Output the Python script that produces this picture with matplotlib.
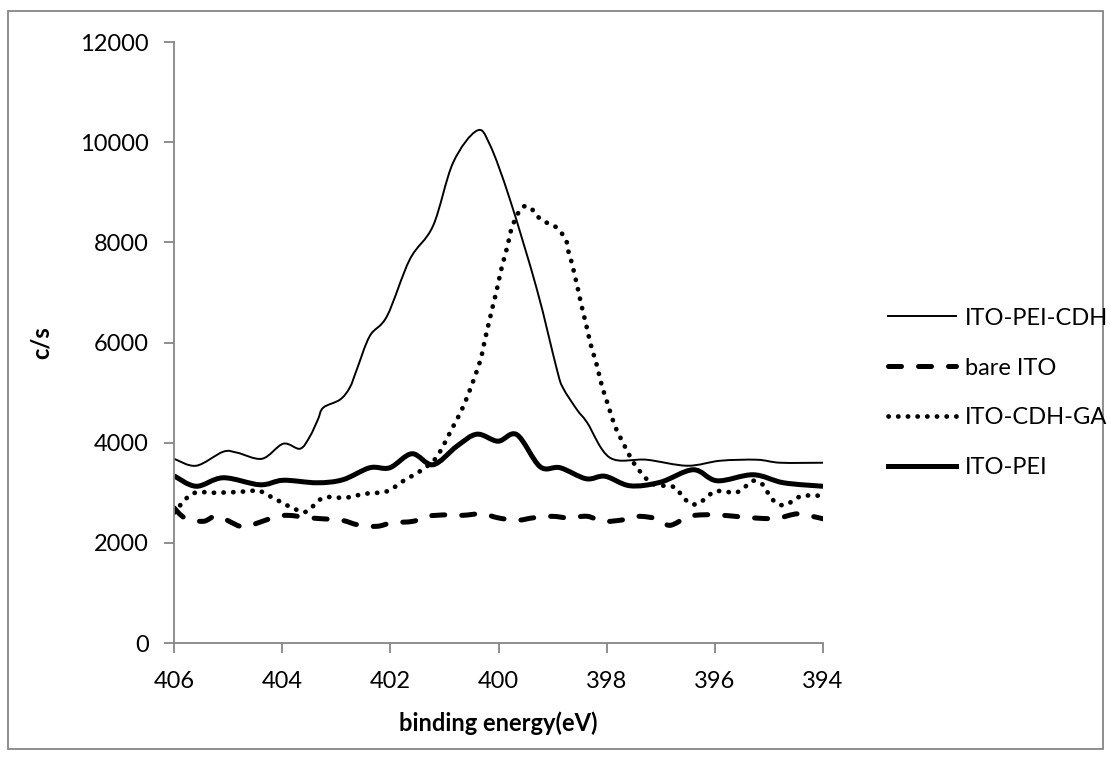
import matplotlib.pyplot as plt
from matplotlib.patches import Rectangle, PathPatch
from matplotlib.path import Path
from matplotlib.lines import Line2D

plt.rcParams['font.family'] = ['Lato', 'DejaVu Sans']

# ITO-PEI-CDH (thin solid)
pei_cdh_x = [406.0, 405.59, 405.09, 404.83, 404.37, 403.98, 403.67, 403.49, 403.34,
             403.24, 402.93, 402.75, 402.62, 402.38, 402.06, 401.64, 401.21, 400.84,
             400.40, 400.16, 399.79, 399.29, 398.92, 398.81, 398.55, 398.36, 397.94,
             397.26, 396.51, 395.90, 395.22, 394.79, 394.0]
pei_cdh_y = [3680, 3540, 3820, 3800, 3680, 3980, 3880, 4120, 4460,
             4700, 4860, 5100, 5460, 6130, 6530, 7660, 8330, 9590,
             10230, 9950, 8860, 7060, 5460, 5100, 4660, 4400, 3700,
             3660, 3540, 3640, 3660, 3600, 3600]

# bare ITO (dashed)
bare_x = [406.0, 405.80, 405.46, 405.20, 404.78, 404.59, 404.17, 403.91, 403.49,
          403.24, 402.89, 402.60, 402.25, 401.97, 401.58, 401.32, 400.95, 400.66,
          400.30, 400.01, 399.66, 399.36, 399.01, 398.71, 398.36, 398.07, 397.70,
          397.42, 397.07, 396.83, 396.50, 396.22, 395.85, 395.53, 395.16, 394.85,
          394.48, 394.20, 394.0]
bare_y = [2700, 2500, 2430, 2530, 2330, 2350, 2500, 2550, 2500,
          2480, 2450, 2360, 2330, 2400, 2430, 2530, 2560, 2550,
          2580, 2500, 2450, 2500, 2530, 2500, 2530, 2430, 2460,
          2530, 2480, 2350, 2520, 2560, 2550, 2520, 2490, 2490,
          2580, 2530, 2480]

# ITO-CDH-GA (dotted)
cdh_ga_x = [406.0, 405.76, 405.57, 405.20, 404.63, 404.45, 404.26, 404.10, 403.91,
            403.73, 403.54, 403.24, 402.84, 402.47, 402.06, 401.77, 401.41, 401.14,
            400.86, 400.67, 400.53, 400.34, 400.25, 400.12, 400.03, 399.94, 399.84,
            399.75, 399.58, 399.42, 399.29, 399.14, 398.97, 398.83, 398.73, 398.70,
            398.64, 398.60, 398.55, 398.47, 398.38, 398.29, 398.18, 398.09, 397.97,
            397.85, 397.68, 397.49, 397.25, 397.10, 396.74, 396.61, 396.46, 396.31,
            396.14, 396.00, 395.79, 395.61, 395.44, 395.29, 395.11, 395.02, 394.89,
            394.73, 394.55, 394.38, 394.0]
cdh_ga_y = [2600, 2900, 3010, 3000, 3030, 3050, 2950, 2860, 2750,
            2660, 2630, 2900, 2900, 2980, 3030, 3230, 3460, 3720,
            4280, 4680, 5050, 5630, 6060, 6660, 7060, 7500, 7900,
            8300, 8680, 8700, 8530, 8410, 8330, 8180, 7980, 7780,
            7580, 7380, 7160, 6760, 6360, 5940, 5540, 5140, 4740,
            4340, 3960, 3580, 3260, 3160, 3110, 2940, 2790, 2780,
            2920, 3030, 3020, 3000, 3120, 3240, 3160, 3000, 2820,
            2750, 2840, 2940, 2940]

# ITO-PEI (thick solid)
pei_x = [406.0, 405.59, 405.09, 404.41, 403.98, 403.36, 402.88, 402.38, 402.01,
         401.60, 401.21, 400.77, 400.40, 400.01, 399.66, 399.23, 398.86, 398.38,
         398.03, 397.57, 397.01, 396.40, 395.96, 395.29, 394.73, 394.0]
pei_y = [3340, 3130, 3300, 3160, 3250, 3200, 3260, 3500, 3500,
         3780, 3560, 3930, 4170, 4030, 4160, 3520, 3500, 3280,
         3330, 3140, 3210, 3460, 3240, 3360, 3200, 3130]

labels = ['ITO-PEI-CDH', 'bare ITO', 'ITO-CDH-GA', 'ITO-PEI']
xticks = [406, 404, 402, 400, 398, 396, 394]
yticks = [0, 2000, 4000, 6000, 8000, 10000, 12000]


def smooth_path(xs, ys):
    # Catmull-Rom style bezier through the points, like Excel's smoothed line
    pts = list(zip(xs, ys))
    verts = [pts[0]]
    codes = [Path.MOVETO]
    n = len(pts)
    for i in range(n - 1):
        p0 = pts[max(i - 1, 0)]
        p1 = pts[i]
        p2 = pts[i + 1]
        p3 = pts[min(i + 2, n - 1)]
        c1 = (p1[0] + (p2[0] - p0[0]) / 6, p1[1] + (p2[1] - p0[1]) / 6)
        c2 = (p2[0] - (p3[0] - p1[0]) / 6, p2[1] - (p3[1] - p1[1]) / 6)
        verts += [c1, c2, p2]
        codes += [Path.CURVE4] * 3
    return Path(verts, codes)


fig = plt.figure(figsize=(11.11, 7.6), dpi=100)
ax = fig.add_axes([0.1566, 0.1539, 0.5842, 0.7908])

styles = [
    dict(lw=1.4, linestyle='-'),
    dict(lw=3.6, linestyle=(0, (2.6, 3.4)), capstyle='round'),
    dict(lw=3.4, linestyle=(0, (0.05, 2.0)), capstyle='round'),
    dict(lw=3.6, linestyle='-'),
]
series = [(pei_cdh_x, pei_cdh_y), (bare_x, bare_y), (cdh_ga_x, cdh_ga_y), (pei_x, pei_y)]

handles = []
for (xs, ys), st, lab in zip(series, styles, labels):
    ax.add_patch(PathPatch(smooth_path(xs, ys), fill=False, edgecolor='black',
                           joinstyle='round', **st))
    handles.append(Line2D([], [], color='black', lw=st['lw'], linestyle=st['linestyle'],
                          dash_capstyle=st.get('capstyle', 'butt')))

ax.set_xlim(406, 394)
ax.set_ylim(0, 12000)
ax.set_xticks(xticks)
ax.set_yticks(yticks)
ax.tick_params(direction='out', length=7, width=1.3, color='#868686',
               labelsize=17)
ax.tick_params(axis='x', pad=13)
ax.tick_params(axis='y', pad=11)

for side in ['top', 'right']:
    ax.spines[side].set_visible(False)
for side in ['left', 'bottom']:
    ax.spines[side].set_color('#868686')
    ax.spines[side].set_linewidth(1.3)

ax.set_xlabel('binding energy(eV)', fontsize=17, fontweight='bold', labelpad=14)
ax.set_ylabel('c/s', fontsize=17, fontweight='bold', labelpad=20)

fig.legend(handles, labels, loc='center left', bbox_to_anchor=(0.78, 0.483),
           frameon=False, fontsize=17, handlelength=2.9, handletextpad=0.35,
           labelspacing=1.22)

fig.patches.append(Rectangle((0.007, 0.015), 0.986, 0.97, transform=fig.transFigure,
                             fill=False, edgecolor='#868686', lw=1.3))

fig.savefig('out.png', dpi=100)
